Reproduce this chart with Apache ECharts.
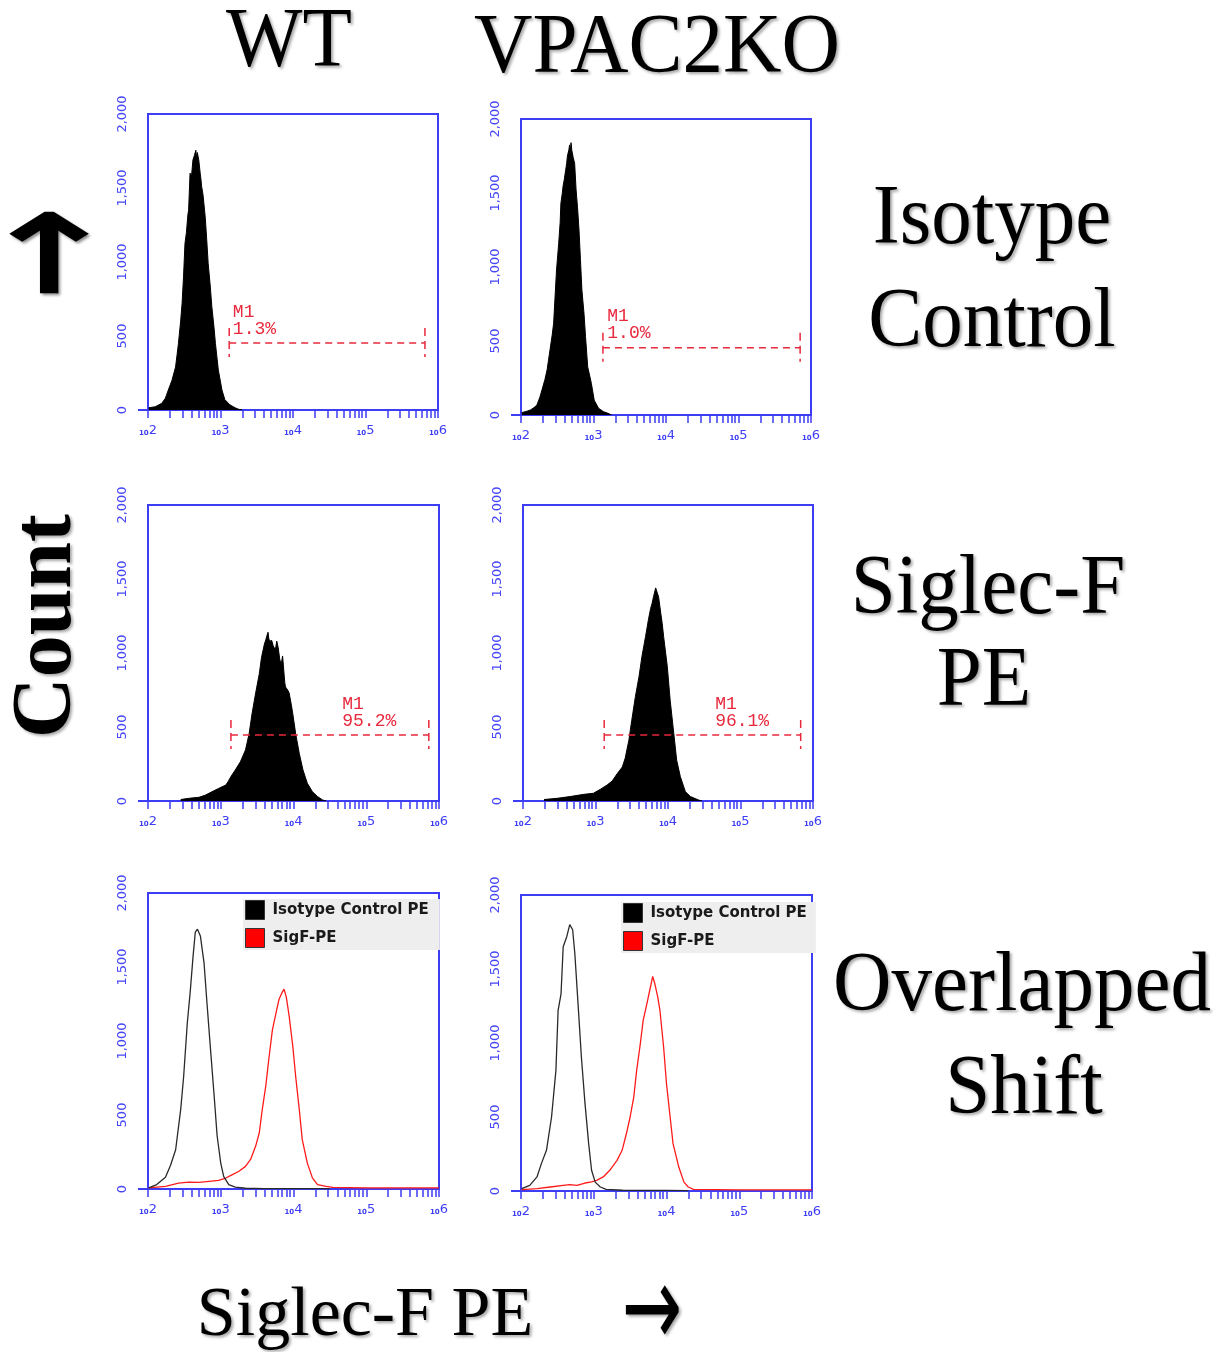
<!DOCTYPE html>
<html><head><meta charset="utf-8">
<script src="https://cdn.jsdelivr.net/npm/echarts@6/dist/echarts.min.js"></script>
<style>html,body{margin:0;padding:0;background:#fff}#c{width:1225px;height:1352px}</style>
</head><body><div id="c"></div><script>
// ---------- data (x = log10 fluorescence, y = count) ----------
const columnTitles = ['WT', 'VPAC2KO'];
const rowTitles = [['Isotype', 'Control'], ['Siglec-F', 'PE'], ['Overlapped', 'Shift']];
const yTickValues = [0, 500, 1000, 1500, 2000];
const yTickLabels = ['0', '500', '1,000', '1,500', '2,000'];
const xTickExponents = [2, 3, 4, 5, 6];
const xTickLabels = ['2', '3', '4', '5', '6'];
const legendNames = ['Isotype Control PE', 'SigF-PE'];

const wtIsotype = [[2.01,15],[2.1,22],[2.19,45],[2.24,80],[2.28,135],[2.33,200],[2.38,290],[2.40,370],[2.42,450],[2.45,600],[2.47,720],[2.49,900],[2.51,1125],[2.53,1200],[2.55,1320],[2.56,1350],[2.58,1600],[2.60,1580],[2.62,1690],[2.64,1720],[2.66,1755],[2.67,1700],[2.68,1740],[2.70,1690],[2.72,1600],[2.73,1560],[2.74,1510],[2.76,1450],[2.79,1300],[2.81,1150],[2.83,990],[2.86,830],[2.88,700],[2.91,560],[2.93,450],[2.95,360],[2.97,270],[3.00,190],[3.02,135],[3.06,70],[3.13,35],[3.2,15],[3.25,5],[3.3,0]];
const koIsotype = [[2.01,16],[2.08,25],[2.13,34],[2.18,50],[2.22,68],[2.26,120],[2.29,170],[2.33,240],[2.36,305],[2.40,440],[2.43,540],[2.45,620],[2.47,800],[2.49,980],[2.52,1160],[2.54,1300],[2.55,1430],[2.57,1500],[2.58,1545],[2.60,1600],[2.61,1635],[2.63,1700],[2.64,1750],[2.66,1790],[2.67,1825],[2.68,1780],[2.69,1840],[2.70,1790],[2.72,1740],[2.74,1700],[2.76,1520],[2.78,1400],[2.80,1250],[2.82,1050],[2.84,845],[2.87,680],[2.89,530],[2.92,325],[2.95,260],[2.97,215],[3.01,100],[3.07,45],[3.14,22],[3.20,11],[3.25,0]];
const wtSigF = [[2.45,10],[2.56,18],[2.70,25],[2.79,40],[2.88,63],[2.97,85],[3.07,108],[3.10,130],[3.14,165],[3.20,210],[3.27,265],[3.34,345],[3.39,455],[3.43,590],[3.48,730],[3.53,860],[3.56,970],[3.60,1060],[3.62,1090],[3.63,1110],[3.65,1140],[3.66,1100],[3.67,1080],[3.69,1090],[3.70,1085],[3.72,1050],[3.73,1060],[3.75,1020],[3.77,1080],[3.79,1035],[3.81,960],[3.83,920],[3.85,980],[3.86,970],[3.88,800],[3.89,770],[3.92,750],[3.94,730],[3.97,650],[3.99,590],[4.03,455],[4.08,320],[4.13,210],[4.19,120],[4.26,63],[4.33,30],[4.40,7],[4.45,0]];
const koSigF = [[2.29,10],[2.47,18],[2.65,30],[2.84,45],[2.97,52],[3.07,80],[3.16,108],[3.23,135],[3.30,185],[3.37,230],[3.41,290],[3.46,410],[3.50,545],[3.55,705],[3.60,840],[3.64,975],[3.69,1110],[3.73,1225],[3.76,1300],[3.78,1335],[3.80,1380],[3.81,1400],[3.83,1440],[3.84,1425],[3.85,1410],[3.87,1380],[3.90,1270],[3.92,1200],[3.94,1110],[3.99,910],[4.03,680],[4.08,455],[4.12,275],[4.17,165],[4.24,63],[4.31,30],[4.42,7],[4.47,0]];
const wtOverlayIso = [[2.01,7],[2.12,30],[2.24,80],[2.31,160],[2.38,265],[2.45,540],[2.49,760],[2.54,1120],[2.58,1330],[2.62,1575],[2.65,1735],[2.68,1755],[2.70,1760],[2.72,1710],[2.77,1530],[2.81,1260],[2.86,940],[2.91,625],[2.95,360],[3.00,175],[3.04,85],[3.11,30],[3.20,13],[3.34,5],[3.6,3],[4.0,3],[4.5,2]];
const wtOverlaySigF = [[2.01,7],[2.24,18],[2.42,40],[2.56,47],[2.70,45],[2.84,52],[2.97,58],[3.07,74],[3.16,97],[3.25,120],[3.34,153],[3.41,200],[3.48,290],[3.53,380],[3.57,535],[3.62,700],[3.66,875],[3.71,1075],[3.76,1190],[3.80,1280],[3.84,1325],[3.87,1350],[3.90,1300],[3.94,1170],[3.99,965],[4.03,760],[4.08,535],[4.12,335],[4.19,175],[4.26,75],[4.33,30],[4.45,18],[4.54,11],[5.0,8],[5.5,8],[6.0,8]];
const koOverlayIso = [[2.01,16],[2.12,38],[2.22,95],[2.28,185],[2.35,275],[2.42,500],[2.48,815],[2.51,1220],[2.55,1330],[2.58,1650],[2.63,1720],[2.67,1800],[2.71,1765],[2.74,1605],[2.79,1220],[2.83,905],[2.88,590],[2.93,320],[2.97,140],[3.02,60],[3.09,27],[3.17,11],[3.4,5],[4.0,4],[4.3,3]];
const koOverlaySigF = [[2.01,9],[2.22,16],[2.40,27],[2.58,38],[2.67,43],[2.77,38],[2.88,54],[2.97,61],[3.04,72],[3.13,95],[3.22,140],[3.32,207],[3.39,275],[3.45,390],[3.50,500],[3.55,635],[3.59,815],[3.64,995],[3.68,1155],[3.73,1265],[3.78,1380],[3.81,1450],[3.84,1400],[3.88,1310],[3.91,1220],[3.96,975],[4.00,725],[4.05,500],[4.09,320],[4.17,160],[4.24,60],[4.30,27],[4.37,11],[5.0,7],[6.0,7]];

const gateStart = [3.12, 3.13, 3.14, 3.12];
const gateEnd = [5.82, 5.85, 5.86, 5.83];
const gateLevel = [452, 455, 446, 446];
const gateLabelX = [3.17, 3.19, 4.67, 4.65];
const gateName = ['M1', 'M1', 'M1', 'M1'];
const gatePct = ['1.3%', '1.0%', '95.2%', '96.1%'];

// ---------- layout / style ----------
const BLUE = '#3d3df5';
const RED = '#e8283c';
const gridBoxes = [[148,114,290,296],[521,119,290,296],[148,505,291,296],[523,505,290,296],[148,893,291,296],[521,895,291,296]];
const minorTicks = [];
for (let d = 2; d < 6; d++) for (let k = 1; k < 10; k++) minorTicks.push(d + Math.log10(k));
minorTicks.push(6);

const grids = gridBoxes.map(b => ({left:b[0], top:b[1], width:b[2], height:b[3], show:true, borderColor:BLUE, borderWidth:2, backgroundColor:'transparent'}));
const xAxes = gridBoxes.map((b, i) => ({
  gridIndex:i, type:'value', min:2, max:6, interval:1,
  axisLine:{show:true, onZero:false, lineStyle:{color:BLUE, width:2}},
  axisTick:{show:true, length:8, customValues:minorTicks, lineStyle:{color:BLUE, width:1.5}},
  axisLabel:{show:true, margin:13, color:BLUE,
    formatter: v => '{t|10}{e|' + xTickLabels[xTickExponents.indexOf(Math.round(v))] + '}',
    rich:{t:{fontSize:7, color:BLUE, fontFamily:'DejaVu Sans', fontWeight:'bold', verticalAlign:'bottom', lineHeight:14},
          e:{fontSize:13, color:BLUE, fontFamily:'DejaVu Sans', verticalAlign:'bottom', lineHeight:14}}},
  splitLine:{show:false}
}));
const yAxes = gridBoxes.map((b, i) => ({
  gridIndex:i, type:'value', min:0, max:2000, interval:500,
  axisLine:{show:true, lineStyle:{color:BLUE, width:2}},
  axisTick:{show:true, length:10, customValues:[0], lineStyle:{color:BLUE, width:2}},
  axisLabel:{show:true, rotate:90, margin:19, color:'#4646f8', fontSize:13, fontFamily:'DejaVu Sans',
    formatter: v => yTickLabels[yTickValues.indexOf(v)]},
  splitLine:{show:false}
}));

function filled(i, data) {
  return {type:'line', xAxisIndex:i, yAxisIndex:i, data:data, symbol:'none', smooth:false,
    lineStyle:{color:'#000', width:1}, areaStyle:{color:'#000', opacity:1}, z:2, silent:true};
}
function outline(i, name, color, data) {
  return {type:'line', name:name, xAxisIndex:i, yAxisIndex:i, data:data, symbol:'none', smooth:false,
    lineStyle:{color:color, width:1.3}, itemStyle:{color:color}, z:3, silent:true};
}
function gate(g, i) {
  return {type:'custom', xAxisIndex:i, yAxisIndex:i, z:5, silent:true,
    data:[[gateStart[g], gateEnd[g], gateLevel[g], gateLabelX[g]]],
    renderItem:(params, api) => {
      const p1 = api.coord([api.value(0), api.value(2)]);
      const p2 = api.coord([api.value(1), api.value(2)]);
      const lab = api.coord([api.value(3), api.value(2)]);
      const ls = {stroke:RED, lineWidth:1.5, lineDash:[7,5]};
      const vs = {stroke:RED, lineWidth:1.5, lineDash:[8,5]};
      return {type:'group', children:[
        {type:'line', shape:{x1:p1[0], y1:p1[1], x2:p2[0], y2:p2[1]}, style:ls},
        {type:'line', shape:{x1:p1[0], y1:p1[1]-15, x2:p1[0], y2:p1[1]+14}, style:vs},
        {type:'line', shape:{x1:p2[0], y1:p2[1]-15, x2:p2[0], y2:p2[1]+14}, style:vs},
        {type:'text', style:{text:gateName[g], x:lab[0], y:p1[1]-40, fill:RED, font:'18px "Liberation Mono"', verticalAlign:'top'}},
        {type:'text', style:{text:gatePct[g], x:lab[0], y:p1[1]-23, fill:RED, font:'18px "Liberation Mono"', verticalAlign:'top'}}
      ]};
    }};
}

const series = [
  filled(0, wtIsotype), filled(1, koIsotype), filled(2, wtSigF), filled(3, koSigF),
  gate(0, 0), gate(1, 1), gate(2, 2), gate(3, 3),
  outline(4, legendNames[1], '#ff1a1a', wtOverlaySigF), outline(4, legendNames[0], '#2a2a2a', wtOverlayIso),
  outline(5, legendNames[1], '#ff1a1a', koOverlaySigF), outline(5, legendNames[0], '#2a2a2a', koOverlayIso)
];

function legendAt(left, top, padRight) {
  return {left:left, top:top, orient:'vertical', selectedMode:false, icon:'rect',
    itemWidth:19, itemHeight:19, itemGap:8, backgroundColor:'#eeeeee', padding:[1,padRight,2,2], z:10,
    textStyle:{fontFamily:'DejaVu Sans', fontWeight:'bold', fontSize:15, color:'#1a1a1a', padding:[0,0,0,3]},
    data:[{name:legendNames[0], itemStyle:{color:'#000', borderColor:'#333', borderWidth:1}},
          {name:legendNames[1], itemStyle:{color:'#ff0000', borderColor:'#333', borderWidth:1}}]};
}

const shadow = {textShadowColor:'rgba(0,0,0,0.35)', textShadowBlur:3, textShadowOffsetX:2, textShadowOffsetY:2};
function txt(text, x, y, size, opts) {
  opts = opts || {};
  const st = Object.assign({text:text, font:(opts.bold ? 'bold ' : '') + size + 'px ' + (opts.family || '"Liberation Serif", "Times New Roman", serif'),
      fill:'#000', align:'center', verticalAlign:'middle'}, shadow);
  if (opts.stroke) { st.stroke = '#000'; st.lineWidth = opts.stroke; }
  return {type:'text', x:x, y:y, rotation:opts.rot || 0, scaleX:opts.sx || 1, scaleY:opts.sy || 1, z:20, style:st};
}
const graphics = [
  txt(columnTitles[0], 289, 44, 81, {sy:1.04}),
  txt(columnTitles[1], 657, 50, 81, {sy:1.04}),
  txt(rowTitles[0][0], 992, 221, 81, {sy:1.04}), txt(rowTitles[0][1], 992, 324, 81, {sy:1.04}),
  txt(rowTitles[1][0], 988, 591, 81, {sy:1.04}), txt(rowTitles[1][1], 984, 683, 81, {sy:1.04}),
  txt(rowTitles[2][0], 1022, 988, 81, {sy:1.04}), txt(rowTitles[2][1], 1024, 1091, 81, {sy:1.04}),
  txt('Count', 48, 626, 84, {bold:true, rot:Math.PI/2}),
  txt('↑', 49, 264, 108, {family:'"DejaVu Sans"', sx:1.6, stroke:2.5}),
  txt('Siglec-F PE', 365, 1317, 70),
  txt('→', 652, 1316, 72, {family:'"DejaVu Sans"', sy:1.6})
];

const chart = echarts.init(document.getElementById('c'), null, {renderer:'canvas'});
chart.setOption({
  animation:false, backgroundColor:'#fff',
  grid:grids, xAxis:xAxes, yAxis:yAxes, series:series,
  legend:[legendAt(243, 899, 11), legendAt(621, 902, 9)],
  graphic:graphics
});
</script></body></html>
